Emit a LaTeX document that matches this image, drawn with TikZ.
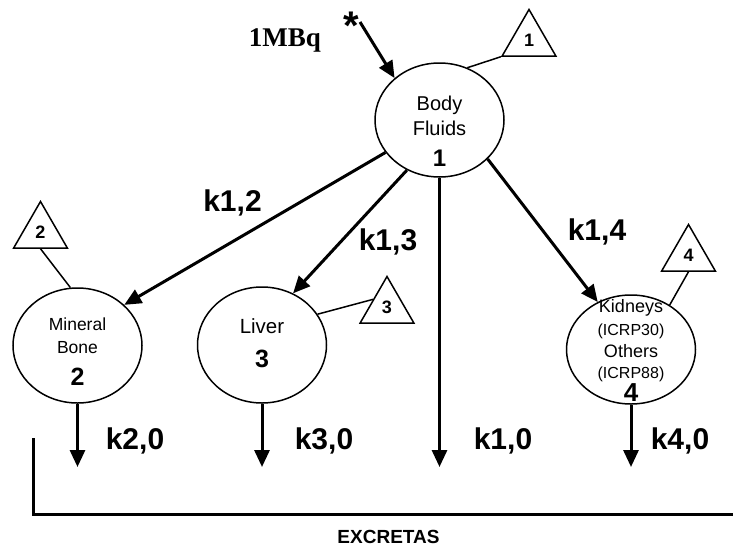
\documentclass[tikz,border=0pt]{standalone}
\usepackage{fontspec}
\setmainfont{Liberation Sans}
\newfontfamily\timesfont{Liberation Serif}
\usetikzlibrary{shapes.geometric,arrows.meta}
\begin{document}
\begin{tikzpicture}[x=1pt,y=-1pt,
  comp/.style={ellipse,draw,line width=1.5pt,minimum width=129pt,minimum height=114pt,inner sep=0pt},
  tri/.style={regular polygon,regular polygon sides=3,draw,line width=1.5pt,minimum size=62pt,inner sep=0pt,font=\fontsize{18}{18}\selectfont\bfseries},
  txt/.style={anchor=base,inner sep=0pt,font=\fontsize{#1}{#1}\selectfont},
  num/.style={anchor=base,inner sep=0pt,font=\fontsize{#1}{#1}\selectfont\bfseries},
  klab/.style={anchor=base,inner sep=0pt,font=\fontsize{30}{30}\selectfont\bfseries},
  flow/.style={line width=3pt,-{Triangle[length=17pt,width=15pt]}},
  thin/.style={line width=1.5pt}]
\useasboundingbox (0,0) rectangle (733,546);
\fill[white] (0,0) rectangle (733,546);

% compartments
\node[comp] (bf) at (439.5,120) {};
\node[comp,minimum height=115pt] (mb) at (77.5,345.5) {};
\node[comp,minimum height=116pt] (lv) at (262,345) {};
\node[comp,minimum height=109pt] (kd) at (631,349.5) {};

% compartment texts
\node[txt=20] (bft1) at (439.5,110) {Body};
\node[txt=20] (bft2) at (439.5,135) {Fluids};
\node[num=24] (bfn) at (439.5,166) {1};
\node[txt=17.5] (mbt1) at (77.5,330) {Mineral};
\node[txt=17.5] (mbt2) at (77.5,353) {Bone};
\node[num=25] (mbn) at (77.5,385) {2};
\node[txt=20.5] (lvt1) at (262,333) {Liver};
\node[num=25] (lvn) at (262,367) {3};
\node[txt=18] (kdt1) at (631,312) {Kidneys};
\node[txt=16] (kdt2) at (631,335) {(ICRP30)};
\node[txt=18] (kdt3) at (631,357) {Others};
\node[txt=16] (kdt4) at (631,378) {(ICRP88)};
\node[num=26] (kdn) at (631,401) {4};

% triangles
\node[tri] (t1) at (529,40.5) {1};
\node[tri] (t2) at (40.5,232.5) {2};
\node[tri] (t3) at (387,307.5) {3};
\node[tri] (t4) at (688.5,255.5) {4};
\draw[thin] (bf.62) -- (t1.corner 2);
\draw[thin] (mb.97) -- (t2.side 2);
\draw[thin] (lv.29) -- (t3.side 1);
\draw[thin] (kd.49) -- (t4.side 2);

% input
\node[anchor=base,inner sep=0pt,font=\timesfont\fontsize{27}{27}\selectfont\bfseries] (mbq) at (285,46) {1MBq};
\node[anchor=base,inner sep=0pt,font=\fontsize{40}{40}\selectfont\bfseries] (star) at (351,39) {*};
\coordinate (in) at (360,22);
\draw[flow] (in) -- (bf.137);

% transfers
\draw[flow] (bf.211) -- (mb.41);
\draw[flow] (bf.237) -- (lv.59);
\draw[flow] (bf.321) -- (kd.125);
\coordinate (e1) at (439.5,467);
\draw[flow] (bf.south) -- (e1);
\coordinate (e2) at (77.5,467);
\draw[flow] (mb.south) -- (e2);
\coordinate (e3) at (262,467);
\draw[flow] (lv.south) -- (e3);
\coordinate (e4) at (631,467);
\draw[flow] (kd.south) -- (e4);

% rate labels
\node[klab] (k12) at (232.5,211) {k1,2};
\node[klab] (k13) at (388,250) {k1,3};
\node[klab] (k14) at (597,240) {k1,4};
\node[klab] (k20) at (135,449) {k2,0};
\node[klab] (k30) at (324,449) {k3,0};
\node[klab] (k10) at (503,449) {k1,0};
\node[klab] (k40) at (680,449) {k4,0};

% excretas
\coordinate (x1) at (33,438);
\coordinate (x2) at (33,514);
\coordinate (x3) at (733,514);
\draw[line width=3pt,line join=miter] (x1) -- (x2) -- (x3);
\node[anchor=base,inner sep=0pt,font=\fontsize{19}{19}\selectfont\bfseries] (exc) at (388.5,543) {EXCRETAS};
\end{tikzpicture}
\end{document}
